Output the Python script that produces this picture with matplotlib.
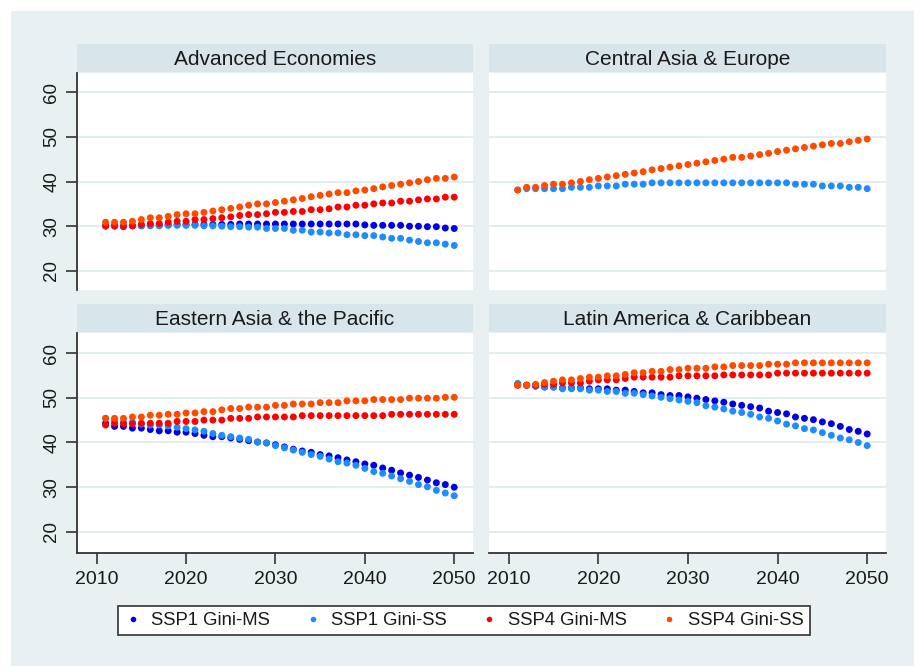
import matplotlib
matplotlib.use("Agg")
import matplotlib.pyplot as plt
from matplotlib.lines import Line2D
from matplotlib.patches import Rectangle

plt.rcParams["font.family"] = ["Liberation Sans", "DejaVu Sans"]

# ---------------- data ----------------
years = list(range(2011, 2051))

regions = ["Advanced Economies", "Central Asia & Europe",
           "Eastern Asia & the Pacific", "Latin America & Caribbean"]
series_labels = ["SSP1 Gini-MS", "SSP1 Gini-SS", "SSP4 Gini-MS", "SSP4 Gini-SS"]
series_colors = ["#0000e8", "#1e8cff", "#ff0000", "#ff4a00"]

ae_ssp1_ms = [30.1, 30.1, 29.9, 30.1, 30.1, 30.2, 30.2, 30.3, 30.4, 30.4,
              30.4, 30.4, 30.4, 30.4, 30.4, 30.5, 30.5, 30.5, 30.5, 30.5,
              30.5, 30.5, 30.5, 30.5, 30.5, 30.5, 30.5, 30.5, 30.5, 30.3,
              30.2, 30.2, 30.2, 30.2, 30.0, 30.0, 29.9, 29.9, 29.6, 29.5]
ae_ssp1_ss = [30.0, 30.0, 30.0, 30.1, 30.1, 30.1, 30.1, 30.2, 30.2, 30.2,
              30.2, 30.1, 30.1, 30.0, 29.9, 29.9, 29.8, 29.8, 29.5, 29.5,
              29.5, 29.1, 29.1, 28.7, 28.7, 28.5, 28.5, 28.1, 28.1, 27.9,
              27.9, 27.6, 27.3, 27.3, 26.9, 26.6, 26.3, 26.3, 26.0, 25.7]
ae_ssp4_ms = [30.1, 30.1, 30.1, 30.1, 30.4, 30.6, 30.6, 30.9, 31.1, 31.1,
              31.5, 31.5, 31.7, 31.9, 32.1, 32.4, 32.6, 32.6, 32.8, 33.1,
              33.1, 33.3, 33.3, 33.7, 33.7, 33.9, 34.3, 34.3, 34.7, 34.7,
              35.0, 35.2, 35.2, 35.6, 35.6, 35.9, 36.1, 36.1, 36.5, 36.5]
ae_ssp4_ss = [30.9, 30.9, 30.9, 31.1, 31.5, 31.9, 31.9, 32.2, 32.6, 32.8,
              32.8, 33.1, 33.4, 33.7, 34.0, 34.3, 34.7, 35.0, 35.0, 35.3,
              35.6, 35.9, 36.2, 36.6, 36.9, 37.2, 37.5, 37.5, 37.9, 38.1,
              38.4, 38.8, 39.1, 39.4, 39.7, 40.0, 40.4, 40.7, 40.7, 41.0]

ca_ssp1_ss = [38.1, 38.4, 38.4, 38.4, 38.4, 38.4, 38.7, 38.7, 38.7, 39.0,
              39.0, 39.0, 39.4, 39.4, 39.4, 39.7, 39.7, 39.7, 39.7, 39.7,
              39.7, 39.7, 39.7, 39.7, 39.7, 39.7, 39.7, 39.7, 39.7, 39.7,
              39.7, 39.4, 39.4, 39.4, 39.0, 39.0, 39.0, 38.7, 38.7, 38.4]
ca_ssp4_ss = [38.1, 38.7, 38.7, 39.1, 39.4, 39.4, 39.7, 40.0, 40.4, 40.7,
              41.0, 41.3, 41.6, 41.9, 42.2, 42.6, 42.9, 43.2, 43.5, 43.8,
              44.1, 44.4, 44.7, 45.0, 45.4, 45.4, 45.7, 46.0, 46.3, 46.7,
              47.0, 47.3, 47.6, 47.9, 48.2, 48.5, 48.5, 48.9, 49.2, 49.5]

ea_ssp1_ms = [44.3, 43.6, 43.6, 43.2, 43.2, 42.9, 42.6, 42.6, 42.3, 42.3,
              42.0, 41.6, 41.3, 41.3, 41.0, 40.7, 40.4, 40.1, 39.9, 39.5,
              39.0, 38.5, 38.1, 37.8, 37.3, 37.0, 36.6, 36.1, 35.7, 35.2,
              34.9, 34.3, 33.8, 33.2, 32.7, 32.2, 31.6, 31.0, 30.6, 30.0]
ea_ssp1_ss = [45.4, 44.9, 44.6, 44.5, 44.1, 43.9, 43.9, 43.7, 43.4, 43.1,
              42.8, 42.5, 42.0, 41.6, 41.3, 41.0, 40.7, 40.1, 39.9, 39.3,
              38.8, 38.3, 37.8, 37.3, 36.9, 36.3, 35.7, 35.4, 34.9, 34.2,
              33.5, 33.1, 32.5, 31.9, 31.3, 30.6, 30.1, 29.3, 28.7, 28.1]
ea_ssp4_ms = [43.9, 44.3, 44.2, 44.2, 44.3, 44.3, 44.3, 44.3, 44.7, 44.7,
              44.7, 45.0, 45.0, 45.0, 45.4, 45.4, 45.4, 45.7, 45.7, 45.7,
              45.7, 45.7, 46.0, 46.0, 46.0, 46.0, 46.0, 46.0, 46.0, 46.0,
              46.0, 46.0, 46.3, 46.3, 46.3, 46.3, 46.3, 46.3, 46.3, 46.3]
ea_ssp4_ss = [45.4, 45.4, 45.4, 45.7, 45.7, 46.1, 46.1, 46.3, 46.3, 46.6,
              46.6, 46.9, 46.9, 47.3, 47.6, 47.6, 47.9, 47.9, 47.9, 48.3,
              48.3, 48.6, 48.6, 48.6, 48.9, 48.9, 48.9, 49.3, 49.3, 49.3,
              49.6, 49.6, 49.6, 49.6, 49.9, 49.9, 49.9, 49.9, 50.1, 50.1]

la_ssp1_ms = [52.9, 52.8, 52.6, 52.4, 52.4, 52.2, 52.2, 52.2, 52.0, 52.0,
              52.0, 51.7, 51.7, 51.4, 51.1, 51.1, 50.7, 50.5, 50.5, 50.2,
              49.9, 49.6, 49.3, 49.0, 48.6, 48.3, 48.0, 47.7, 47.0, 46.7,
              46.4, 45.7, 45.4, 45.1, 44.6, 44.2, 43.6, 42.9, 42.5, 41.9]
la_ssp1_ss = [53.2, 52.8, 52.6, 52.4, 52.4, 52.0, 52.0, 52.0, 51.7, 51.7,
              51.4, 51.4, 51.0, 51.0, 50.7, 50.4, 50.1, 49.8, 49.5, 49.2,
              48.9, 48.2, 47.9, 47.5, 47.0, 46.7, 46.3, 45.7, 45.4, 44.8,
              44.1, 43.7, 43.1, 42.8, 42.2, 41.6, 41.0, 40.6, 40.0, 39.3]
la_ssp4_ms = [52.8, 52.8, 52.8, 53.0, 53.0, 53.3, 53.3, 53.3, 53.7, 54.0,
              54.0, 54.0, 54.3, 54.6, 54.6, 54.6, 54.6, 54.6, 54.9, 54.9,
              54.9, 54.9, 54.9, 55.1, 55.1, 55.1, 55.1, 55.1, 55.1, 55.5,
              55.5, 55.5, 55.5, 55.5, 55.5, 55.5, 55.5, 55.5, 55.5, 55.5]
la_ssp4_ss = [52.8, 52.8, 53.0, 53.4, 53.7, 54.0, 54.0, 54.3, 54.6, 54.6,
              54.9, 54.9, 55.2, 55.6, 55.6, 55.9, 55.9, 56.3, 56.3, 56.6,
              56.6, 56.6, 56.9, 56.9, 57.2, 57.2, 57.2, 57.2, 57.5, 57.5,
              57.5, 57.8, 57.8, 57.8, 57.8, 57.8, 57.8, 57.8, 57.8, 57.8]

panel_series = [
    [ae_ssp1_ms, ae_ssp1_ss, ae_ssp4_ms, ae_ssp4_ss],
    [None, ca_ssp1_ss, None, ca_ssp4_ss],
    [ea_ssp1_ms, ea_ssp1_ss, ea_ssp4_ms, ea_ssp4_ss],
    [la_ssp1_ms, la_ssp1_ss, la_ssp4_ms, la_ssp4_ss],
]

y_ticks = [20, 30, 40, 50, 60]
x_ticks = [2010, 2020, 2030, 2040, 2050]

# ---------------- layout ----------------
W, H = 914, 666
BG = "#e8f0f2"
STRIP = "#d8e5eb"
GRID = "#e4edf0"
AXC = "#333333"

fig = plt.figure(figsize=(W / 100, H / 100), dpi=100, facecolor="white")
fig.patches.append(Rectangle((11 / W, 0), 1 - 11 / W, 1 - 11 / H,
                             transform=fig.transFigure, facecolor=BG,
                             edgecolor="none", zorder=-10))


def rect(l, t, r, b):
    return [l / W, 1 - b / H, (r - l) / W, (b - t) / H]


cols = [(77, 473), (489, 886)]
rows = [((44, 72), (73, 290), (15.75, 64.25)),
        ((304, 332), (333, 553), (15.3, 64.47))]

for idx, region in enumerate(regions):
    ri, ci = divmod(idx, 2)
    (l, r) = cols[ci]
    (st, sb), (pt, pb), ylim = rows[ri]

    sax = fig.add_axes(rect(l, st, r, sb))
    sax.set_facecolor(STRIP)
    sax.set_xticks([]); sax.set_yticks([])
    for s in sax.spines.values():
        s.set_visible(False)
    sax.text(0.5, 0.45, region, ha="center", va="center", fontsize=15,
             color="#1a1a1a", transform=sax.transAxes)

    ax = fig.add_axes(rect(l, pt, r, pb))
    ax.set_facecolor("white")
    ax.set_xlim(2007.8, 2052.1)
    ax.set_ylim(*ylim)
    for yv in y_ticks:
        ax.axhline(yv, color=GRID, lw=1.4, zorder=0)
    for si, vals in enumerate(panel_series[idx]):
        if vals is None:
            continue
        ax.scatter(years, vals, s=25, color=series_colors[si],
                   edgecolors="none", zorder=2 + si)
    for s in ax.spines.values():
        s.set_visible(False)
    ax.set_yticks(y_ticks)
    ax.set_xticks(x_ticks)
    if ci == 0:
        ax.spines["left"].set_visible(True)
        ax.spines["left"].set_color(AXC)
        ax.spines["left"].set_linewidth(1.3)
        ax.tick_params(axis="y", length=8, width=1.2, color=AXC, pad=4,
                       labelsize=13.5, labelcolor="#1a1a1a")
        for lab in ax.get_yticklabels():
            lab.set_rotation(90)
            lab.set_va("center")
    else:
        ax.tick_params(axis="y", left=False, labelleft=False)
    if ri == 1:
        ax.spines["bottom"].set_visible(True)
        ax.spines["bottom"].set_color(AXC)
        ax.spines["bottom"].set_linewidth(1.3)
        ax.tick_params(axis="x", length=8, width=1.2, color=AXC, pad=5,
                       labelsize=14, labelcolor="#1a1a1a")
    else:
        ax.tick_params(axis="x", bottom=False, labelbottom=False)

handles = [Line2D([], [], marker="o", linestyle="none", color=c,
                  markersize=4, markeredgewidth=0) for c in series_colors]
leg = fig.legend(handles, series_labels, ncol=4, loc="center",
                 bbox_to_anchor=(118 / W, 1 - 639 / H, 692 / W, 37 / H),
                 mode="expand", frameon=True, fancybox=False,
                 edgecolor="#404040", facecolor="white", fontsize=13.3,
                 handlelength=0.9, handletextpad=0.55, borderpad=0.35,
                 borderaxespad=0, framealpha=1)
leg.get_frame().set_linewidth(1.3)
for t in leg.get_texts():
    t.set_color("#1a1a1a")

fig.savefig("out.png", dpi=100, facecolor=fig.get_facecolor())
